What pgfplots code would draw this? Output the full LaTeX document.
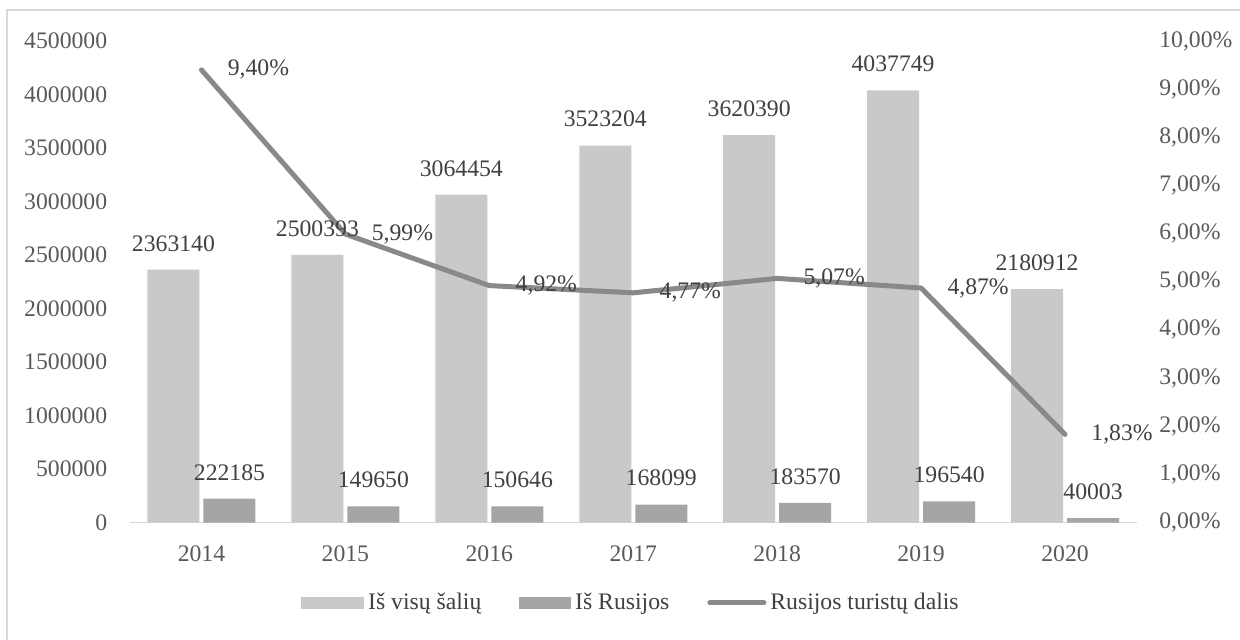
\documentclass[border=0pt]{standalone}
\usepackage{pgfplots}
\usepackage{pgfplotstable}
\pgfplotsset{compat=1.18}
\usepackage{fontspec}
\setmainfont{Liberation Serif}
\definecolor{barA}{HTML}{C9C9C9}
\definecolor{barB}{HTML}{A5A5A5}
\definecolor{lineC}{HTML}{898989}
\definecolor{tickC}{HTML}{595959}
\definecolor{labC}{HTML}{404040}
\definecolor{frameC}{HTML}{D9D9D9}
\pgfplotstableread{
x y lab
0 2363140 2363140
1 2500393 2500393
2 3064454 3064454
3 3523204 3523204
4 3620390 3620390
5 4037749 4037749
6 2180912 2180912
}\visos
\pgfplotstableread{
x y lab
0 222185 222185
1 149650 149650
2 150646 150646
3 168099 168099
4 183570 183570
5 196540 196540
6 40003 40003
}\rusija
\pgfplotstableread{
x y lab
0 9.40 9,40
1 5.99 5,99
2 4.92 4,92
3 4.77 4,77
4 5.07 5,07
5 4.87 4,87
6 1.83 1,83
}\dalis
\begin{document}
\fontsize{11.85}{14}\selectfont
\begin{tikzpicture}
\useasboundingbox (0,0) rectangle (620pt,319.5pt);
\draw[frameC, line width=0.8pt] (3.5pt,-5pt) -- (3.5pt,314.5pt) -- (630pt,314.5pt);
\pgfplotsset{
  every axis/.append style={
    /pgf/number format/assume math mode=true,
    scale only axis, width=503.75pt, height=240.75pt,
    at={(64.75pt,58.25pt)}, anchor=south west,
    xmin=-0.5, xmax=6.5,
    major tick length=0pt,
    tick label style={font=\fontsize{11.85}{14}\selectfont, text=tickC},
  },
  barax/.style={
    ybar, bar width=26pt,
    ymin=0, ymax=4500000,
    scaled y ticks=false,
  }
}
% bars
\begin{axis}[
  barax,
  ytick={0,500000,1000000,1500000,2000000,2500000,3000000,3500000,4000000,4500000},
  yticklabels={0,500000,1000000,1500000,2000000,2500000,3000000,3500000,4000000,4500000},
  xtick=data, xticklabels={2014,2015,2016,2017,2018,2019,2020},
  axis x line*=bottom, axis y line*=left,
  x axis line style={draw=frameC, line width=0.8pt, -},
  y axis line style={draw=none},
  yticklabel style={xshift=-7pt},
  xticklabel style={yshift=-7.5pt},
]
\addplot[fill=barA, draw=none] table[x=x, y=y] {\visos};
\addplot[fill=barB, draw=none] table[x=x, y=y] {\rusija};
\end{axis}
% line
\begin{axis}[
  ymin=0, ymax=10,
  ytick={0,1,...,10},
  yticklabels={{0,00\%},{1,00\%},{2,00\%},{3,00\%},{4,00\%},{5,00\%},{6,00\%},{7,00\%},{8,00\%},{9,00\%},{10,00\%}},
  axis x line=none, axis y line*=right,
  y axis line style={draw=none},
  yticklabel style={xshift=7pt},
  point meta=explicit symbolic,
  legend style={at={(0.4988,-0.167)}, anchor=center, draw=none, fill=none,
    legend columns=3, font=\fontsize{11.85}{14}\selectfont, text=labC,
    /tikz/every even column/.append style={column sep=17pt},
    nodes={inner sep=2pt}},
]
\addlegendimage{legend image code/.code={\fill[barA] (0pt,-2.75pt) rectangle (31pt,2.75pt);}}
\addlegendentry{Iš visų šalių}
\addlegendimage{legend image code/.code={\fill[barB] (0pt,-2.75pt) rectangle (25.5pt,2.75pt);}}
\addlegendentry{Iš Rusijos}
\addplot[lineC, line width=2.5pt, line cap=round, line join=round,
  nodes near coords={\pgfplotspointmeta\%},
  every node near coord/.append style={font=\fontsize{11.85}{14}\selectfont, text=labC, anchor=west, xshift=8pt},
  legend image code/.code={\draw[lineC, line width=2.5pt, line cap=round] (0pt,0pt) -- (27pt,0pt);}]
  table[x=x, y=y, meta=lab] {\dalis};
\addlegendentry{Rusijos turistų dalis}
\end{axis}
% bar labels on top
\begin{axis}[
  barax,
  hide axis,
  point meta=explicit symbolic,
  nodes near coords={\pgfplotspointmeta},
  every node near coord/.append style={font=\fontsize{11.85}{14}\selectfont, text=labC, yshift=5pt},
]
\addplot[draw=none, fill=none] table[x=x, y=y, meta=lab] {\visos};
\addplot[draw=none, fill=none] table[x=x, y=y, meta=lab] {\rusija};
\end{axis}
\end{tikzpicture}
\end{document}
